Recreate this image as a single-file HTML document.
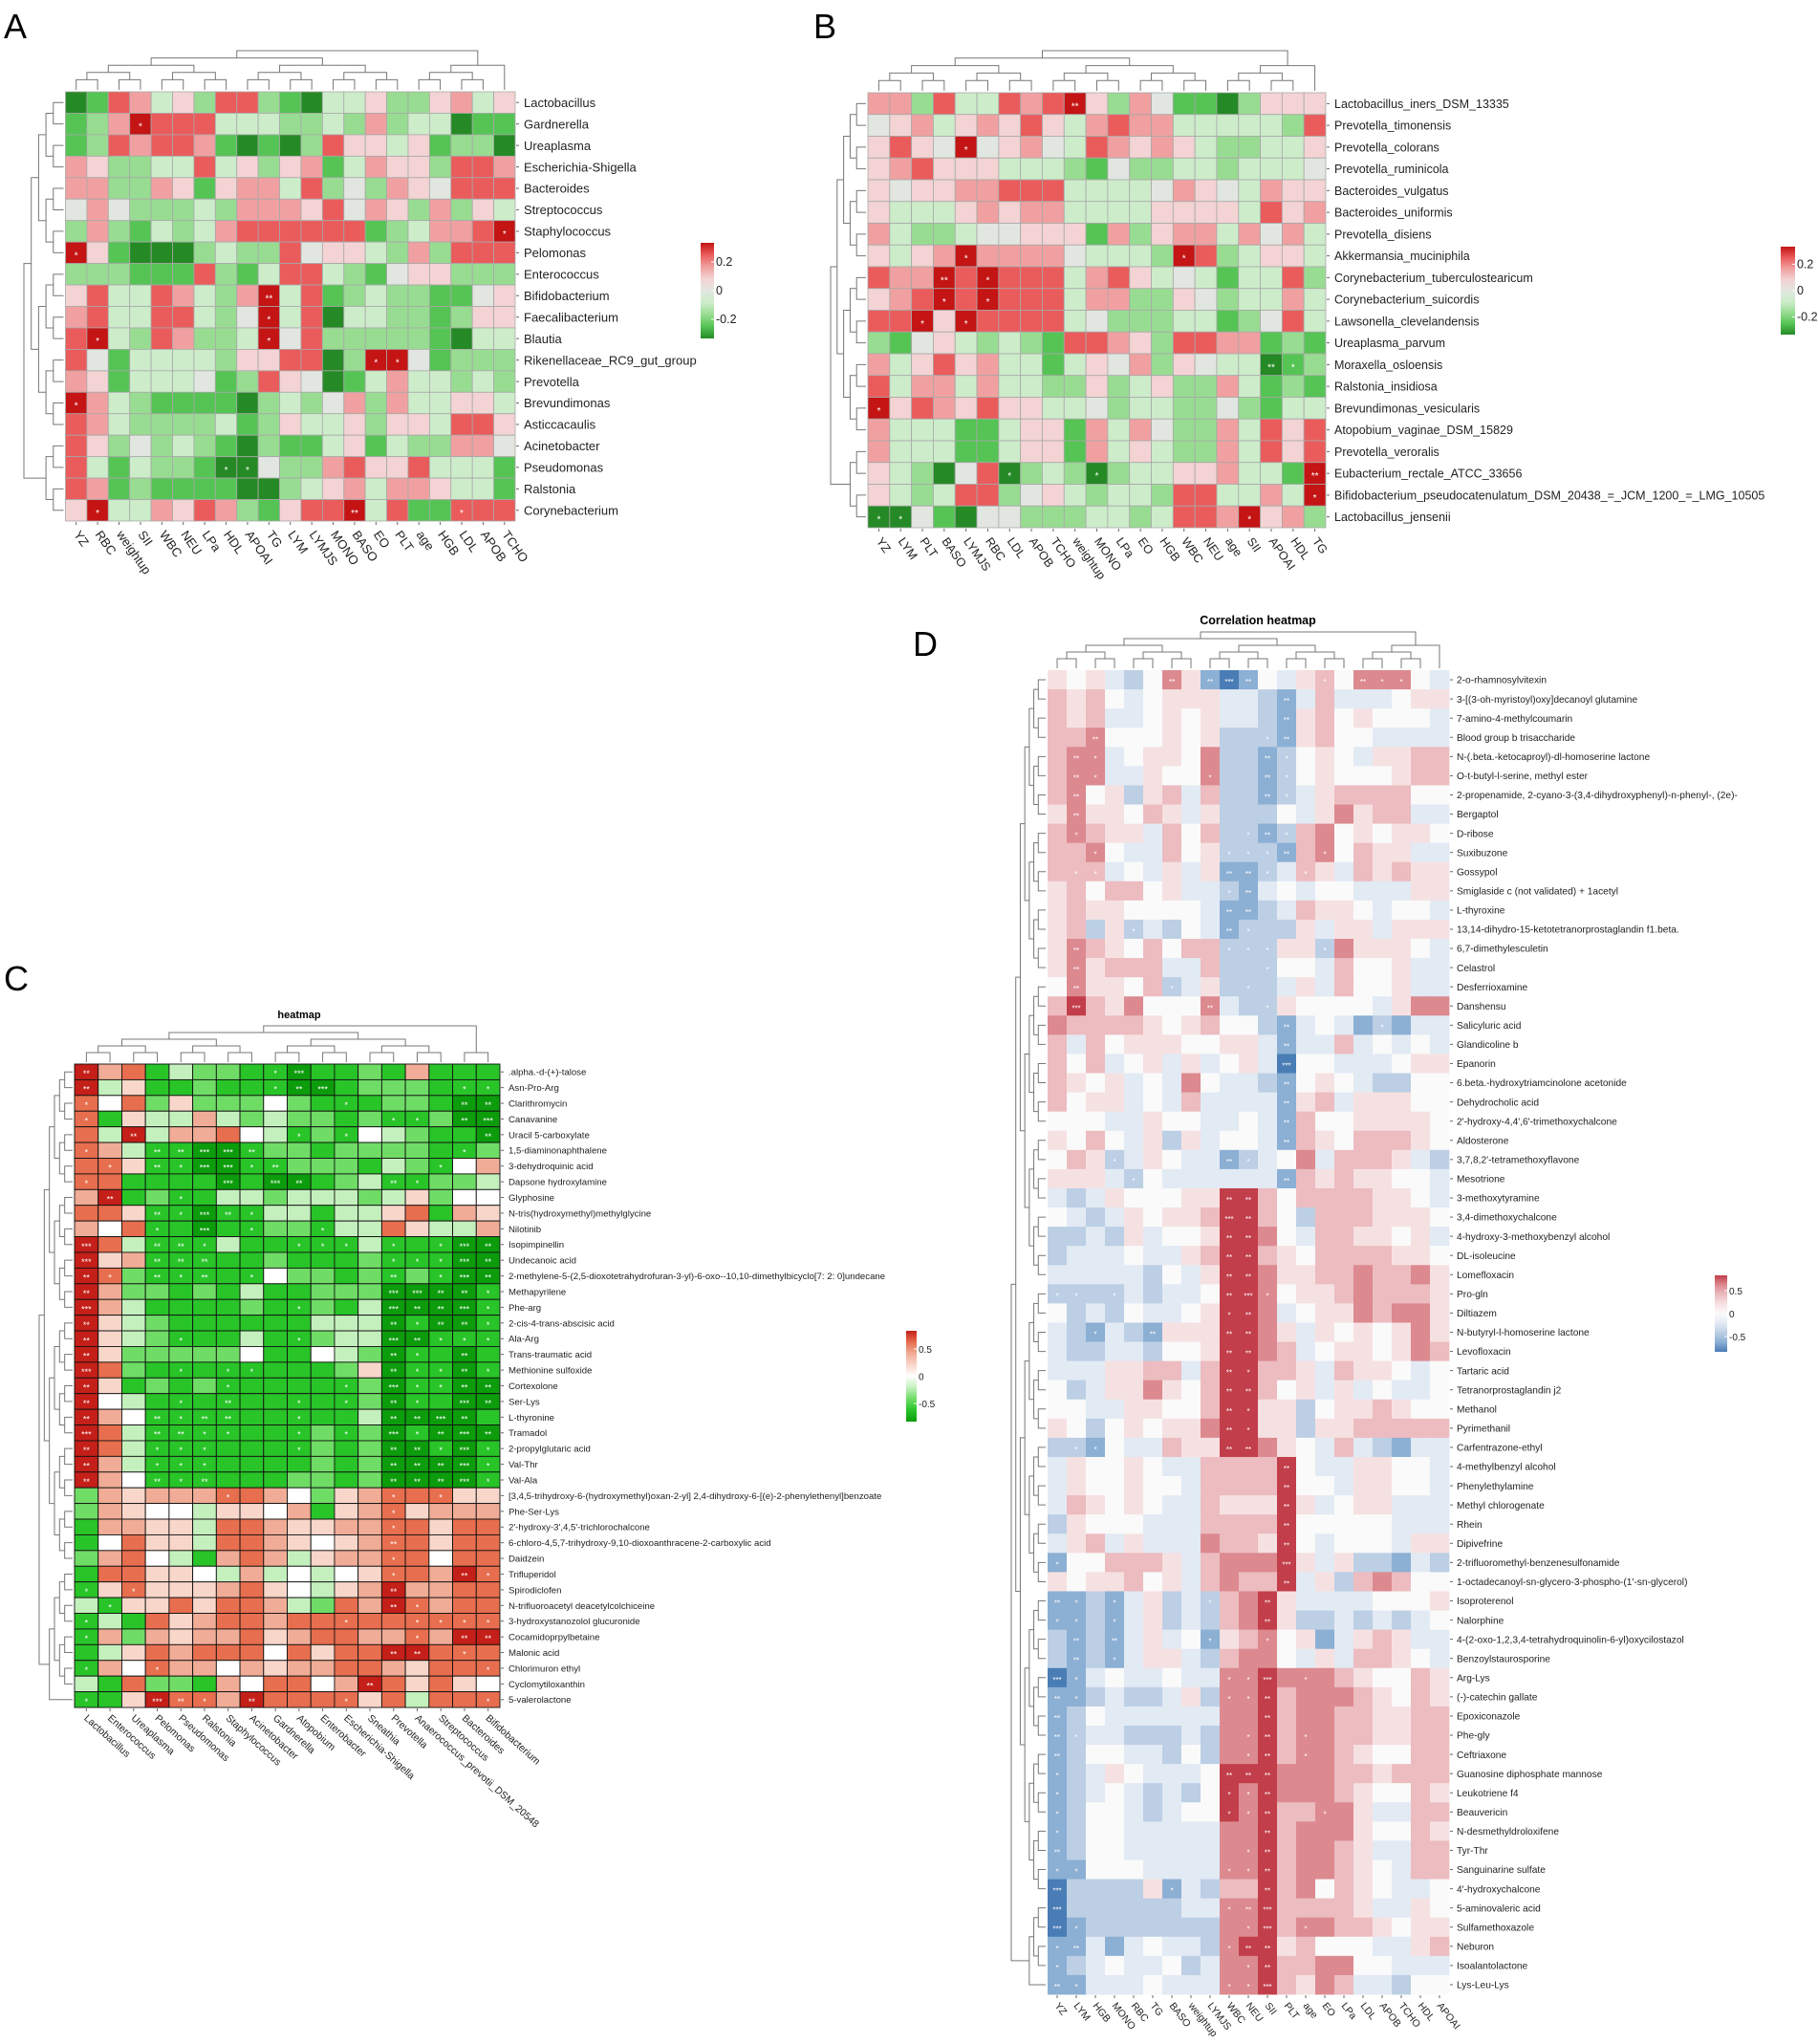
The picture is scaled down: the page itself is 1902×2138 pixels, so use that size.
<!DOCTYPE html>
<html><head><meta charset="utf-8"><style>
html,body{margin:0;padding:0;background:#fff;}
svg{display:block;font-family:"Liberation Sans",sans-serif;}
</style></head><body>
<svg id="fig" width="1902" height="2138" viewBox="0 0 1902 2138" xmlns="http://www.w3.org/2000/svg">
<text x="4" y="40" font-size="36" fill="#000">A</text>
<text x="851" y="40" font-size="36" fill="#000">B</text>
<text x="4" y="1036" font-size="36" fill="#000">C</text>
<text x="955" y="686" font-size="36" fill="#000">D</text>
<text x="313" y="1065" font-size="11" font-weight="bold" text-anchor="middle">heatmap</text>
<text x="1316" y="653" font-size="12.5" font-weight="bold" text-anchor="middle">Correlation heatmap</text>
</svg>
<script>
// ---------- Panel A data ----------
const colsA = ["YZ","RBC","weightup","SII","WBC","NEU","LPa","HDL","APOAI","TG","LYM","LYMJS","MONO","BASO","EO","PLT","age","HGB","LDL","APOB","TCHO"];
const rowLabelsA = ["Lactobacillus","Gardnerella","Ureaplasma","Escherichia-Shigella","Bacteroides","Streptococcus","Staphylococcus","Pelomonas","Enterococcus","Bifidobacterium","Faecalibacterium","Blautia","Rikenellaceae_RC9_gut_group","Prevotella","Brevundimonas","Asticcacaulis","Acinetobacter","Pseudomonas","Ralstonia","Corynebacterium"];
const valuesA = [
"-4 -3 3 2 -1 1 -2 3 3 -2 -3 -4 -1 -1 1 -2 -2 1 2 -1 1",
"-3 -2 2 4* 3 3 3 -1 -1 -1 -2 -2 -1 -2 2 -2 -1 -1 -4 -3 -3",
"-3 -2 3 2 3 3 2 -3 -4 -3 -4 -2 3 1 1 -1 1 -3 -2 -2 -4",
"2 1 -2 -2 -1 -1 3 -1 1 -2 1 2 -3 -1 2 1 1 -2 3 3 2",
"2 2 -2 -2 2 1 -3 1 2 2 -1 3 -2 0 -2 2 1 0 3 3 3",
"0 2 0 -2 -2 -2 -1 -2 2 2 2 1 3 0 2 1 -2 2 -2 1 -1",
"-2 2 -2 -3 -1 -2 -1 2 3 3 3 3 3 3 -3 -2 -1 2 2 3 4*",
"4* 1 -3 -4 -4 -4 -2 -1 -2 -2 3 0 1 1 -1 -2 2 -2 3 3 3",
"-2 -2 -2 -3 -3 -3 3 -2 -3 -1 3 3 -1 -2 -3 0 1 1 -2 -2 -2",
"1 3 -1 -1 3 2 -1 -2 2 4** -1 3 -3 -2 -1 -2 -2 -3 -3 0 1",
"2 3 -1 -1 3 3 -1 -2 0 4* -1 3 -4 -1 -1 -2 -2 -3 -2 1 1",
"3 4* -1 -2 3 2 -2 -2 -1 4* 0 3 -2 -2 -2 -2 -2 -3 -4 -1 -1",
"3 0 -3 -1 -1 -1 -1 -2 1 1 3 3 -4 -2 4* 4* 0 -3 -2 -2 -2",
"2 1 -3 -1 -1 -1 0 -3 -2 3 1 0 -4 -3 -1 2 -1 -1 -2 -1 -2",
"4* 2 -1 -2 -3 -3 -3 -3 -4 -2 -1 -2 0 2 -2 2 -1 -1 1 1 -1",
"3 2 -1 -2 -2 -2 -2 -1 -3 -2 1 -1 -1 1 -2 1 1 -1 3 3 1",
"3 1 -2 0 -2 -1 -2 -3 -4 -2 -3 -3 -1 1 -3 -1 -2 -2 2 2 0",
"3 -1 -3 -1 -2 -2 -3 -4* -4* 0 -2 -2 2 3 1 1 3 -1 -1 -1 -3",
"3 2 -3 -2 -3 -3 -3 -3 -4 -4 -2 -1 1 2 -1 2 2 1 -1 -1 -3",
"1 4* -1 -1 2 1 3 2 -2 -3 1 3 3 4** -1 3 -3 -3 3* 3 3"];
// ---------- Panel B data ----------
const colsB = ["YZ","LYM","PLT","BASO","LYMJS","RBC","LDL","APOB","TCHO","weightup","MONO","LPa","EO","HGB","WBC","NEU","age","SII","APOAI","HDL","TG"];
const rowLabelsB = ["Lactobacillus_iners_DSM_13335","Prevotella_timonensis","Prevotella_colorans","Prevotella_ruminicola","Bacteroides_vulgatus","Bacteroides_uniformis","Prevotella_disiens","Akkermansia_muciniphila","Corynebacterium_tuberculostearicum","Corynebacterium_suicordis","Lawsonella_clevelandensis","Ureaplasma_parvum","Moraxella_osloensis","Ralstonia_insidiosa","Brevundimonas_vesicularis","Atopobium_vaginae_DSM_15829","Prevotella_veroralis","Eubacterium_rectale_ATCC_33656","Bifidobacterium_pseudocatenulatum_DSM_20438_=_JCM_1200_=_LMG_10505","Lactobacillus_jensenii"];
const valuesB = [
"2 2 -2 3 -1 -1 3 2 3 4** 1 -2 2 0 -3 -3 -4 -2 1 1 1",
"0 1 2 -1 1 2 1 3 1 -1 2 3 2 2 -1 -1 -1 -1 -1 -2 3",
"1 3 1 0 4* 0 1 2 0 -1 3 2 1 2 1 -1 -2 -2 -1 -1 1",
"1 2 3 1 1 1 -1 -1 -1 -2 -3 0 -2 -2 -1 -1 -2 -1 -1 -1 0",
"1 0 1 1 2 2 3 3 3 -1 -1 -1 -1 0 2 1 0 -1 2 1 1",
"1 -1 -1 -1 1 2 1 2 2 -1 -1 -1 -1 1 1 1 1 -1 3 1 2",
"2 -1 -2 -2 -1 0 0 1 1 1 -3 2 -2 1 2 2 -1 2 0 2 -1",
"1 -1 1 2 4* 2 2 2 2 0 -1 -1 -1 -2 4* 3 -2 -1 1 1 -1",
"3 2 2 4** 3 4* 3 3 3 -1 2 3 1 -1 0 -1 -3 -1 -1 3 -2",
"1 2 3 4* 3 4* 3 3 3 -1 2 2 -2 -2 1 0 -2 -1 -1 2 -1",
"3 3 4* 1 4* 3 3 3 3 -1 0 -2 -2 -2 -1 -1 -3 -2 0 3 -1",
"-2 -3 0 1 -1 -2 -1 -2 -3 3 3 2 1 -2 3 3 2 2 -3 -2 -3",
"2 -1 1 3 1 2 -1 -1 -3 -1 1 0 2 -2 1 0 -1 -1 -4** -3* -2",
"3 -1 2 2 -1 2 -1 -1 -2 -2 1 -2 -1 1 -2 -2 2 -1 -3 -2 -3",
"4* 1 3 2 1 3 1 1 -1 -1 0 -2 -1 -1 -2 -2 0 -2 -3 -1 -1",
"2 -1 -1 -1 -3 -3 -1 1 1 -3 2 -1 2 0 -2 -2 2 -1 3 1 3",
"2 -1 -1 -1 -3 -3 -1 1 1 -3 2 -1 1 -1 -2 -2 2 -1 3 1 3",
"1 -1 -2 -4 0 3 -4* -2 -1 -2 -4* -2 -1 -1 1 1 2 -1 -1 -3 4**",
"1 -1 -2 -1 3 3 -2 0 1 -1 -2 -1 -1 -2 3 3 -1 -1 2 -1 4*",
"-4* -4* 0 -3 -4 0 0 -2 -2 -2 -1 -1 -2 -1 3 3 2 4* 1 2 -2"];
// ---------- Panel C data ----------
const colsC = ["Lactobacillus","Enterococcus","Ureaplasma","Pelomonas","Pseudomonas","Ralstonia","Staphylococcus","Acinetobacter","Gardnerella","Atopobium","Enterobacter","Escherichia-Shigella","Sneathia","Prevotella","Anaerococcus_prevotii_DSM_20548","Streptococcus","Bacteroides","Bifidobacterium"];
const rowLabelsC = [".alpha.-d-(+)-talose","Asn-Pro-Arg","Clarithromycin","Canavanine","Uracil 5-carboxylate","1,5-diaminonaphthalene","3-dehydroquinic acid","Dapsone hydroxylamine","Glyphosine","N-tris(hydroxymethyl)methylglycine","Nilotinib","Isopimpinellin","Undecanoic acid","2-methylene-5-(2,5-dioxotetrahydrofuran-3-yl)-6-oxo--10,10-dimethylbicyclo[7: 2: 0]undecane","Methapyrilene","Phe-arg","2-cis-4-trans-abscisic acid","Ala-Arg","Trans-traumatic acid","Methionine sulfoxide","Cortexolone","Ser-Lys","L-thyronine","Tramadol","2-propylglutaric acid","Val-Thr","Val-Ala","[3,4,5-trihydroxy-6-(hydroxymethyl)oxan-2-yl] 2,4-dihydroxy-6-[(e)-2-phenylethenyl]benzoate","Phe-Ser-Lys","2'-hydroxy-3',4,5'-trichlorochalcone","6-chloro-4,5,7-trihydroxy-9,10-dioxoanthracene-2-carboxylic acid","Daidzein","Trifluperidol","Spirodiclofen","N-trifluoroacetyl deacetylcolchiceine","3-hydroxystanozolol glucuronide","Cocamidoprpylbetaine","Malonic acid","Chlorimuron ethyl","Cyclomytiloxanthin","5-valerolactone"];
const valuesC = [
"4** 2 3 -3 -1 -2 -2 -3 -3* -4*** -3 -3 -2 -3 2 -3 -3 -3",
"4** -1 1 -3 -3 -2 -3 -3 -3* -4** -4*** -3 -2 -2 -2 -3 -3* -3*",
"3* 0 3 -2 1 -2 -2 -2 0 -2 -3 -3* -3 -2 -2 -3 -4** -4**",
"3* -3 1 -1 -1 2 -1 -2 -1 -2 -2 -3 -2 -3* -3* -2 -4** -4***",
"3 -1 4** -1 2 2 3 0 -1 -3* -2 -3* 0 -1 -2 -3 -3 -4**",
"3* 2 -1 -3** -3** -4*** -4*** -3** -2 -2 -3 -2 -2 -2 -2 -3 -3* -2",
"3 3* 1 -3** -3* -4*** -4*** -3* -3** -2 -2 -2 -3 -1 -2 -3* 0 2",
"3* 3 -3 -3 -3 -3 -4*** -3 -4*** -4** -3 -2 -1 -3** -3* -2 -2 -1",
"2 4** -3 -2 -3* -3 -1 -1 -2 -1 -1 -1 -2 -1 1 -2 0 0",
"3 3 1 -3** -3* -4*** -3** -3* -1 -1 -3 -1 -1 1 3 -3 2 1",
"2 0 3 -3* -3 -4*** -3 -3* -2 -2 -3* -1 -1 3 1 -1 -1 2",
"4*** 3 -1 -3** -3** -3* -1 -3 -3 -3* -3* -3* -1 -3* -3 -3* -4*** -4**",
"4*** 1 2 -3** -3** -3** -3 -3 -2 -3 -3 -3 -2 -3* -3* -3* -4*** -4**",
"4** 3* -2 -3** -3* -3** -3 -3* 0 -2 -2 -3 -2 -3** -2 -3* -4*** -4**",
"4** 2 -2 -2 -3 -2 -3 -1 -3 -3 -2 -2 -2 -4*** -4*** -4** -4** -3*",
"4*** 2 -1 -3 -3 -3 -3 -2 -3 -3* -2 -3 -1 -4*** -4** -4** -4*** -3*",
"4** 1 -1 -2 -3 -3 -3 -3 -3 -3 -1 -1 -1 -4** -3* -4** -4** -3*",
"4** 1 -1 -2 -3* -3 -3 -1 -3 -3* -2 -1 -1 -4*** -4** -3* -3* -3*",
"4** 1 -2 -2 -2 -2 -2 0 -3 -3 0 -1 -2 -4** -3* -3 -4** -3",
"4*** 3 -2 -3 -3* -3 -3* -3* -3 -3 -3 -2 1 -4** -3* -3* -4** -3*",
"4** 1 -3 -2 -3 -2 -3* -3 -3 -3 -3 -3* -2 -4*** -3* -3* -4** -4**",
"4** 0 -1 -3 -3* -3 -3** -3 -3 -3* -3 -3* -2 -4** -3* -3 -4*** -4**",
"4** 2 0 -3** -3* -3** -3** -3 -3 -3* -3 -3 -1 -4** -4** -4*** -4** -3",
"4*** 3 -1 -3** -3** -3* -3* -3 -3 -3* -2 -3* -2 -4*** -3* -4** -4*** -4**",
"4** 3 -1 -3* -3* -3* -3 -3 -3 -3* -2 -3 -2 -4** -4** -3* -4*** -3*",
"4** 2 -1 -3* -3* -3* -3 -3 -3 -3 -2 -3 -2 -4** -4** -4** -4*** -3*",
"4** 2 0 -3** -3* -3** -3 -3 -3 -2 -2 -3 -2 -4** -4** -4** -4*** -3*",
"-2 2 1 2 2 2 3* 3 2 0 -2 1 2 3* 3 3* 1 1",
"-2 2 1 0 0 -1 1 1 0 2 -3 1 2 3* 1 2 2 2",
"-3 2 2 1 1 -1 3 3 2 1 1 2 2 3* 3 1 3 3",
"-3 0 3 1 1 -1 3 3 2 1 0 1 2 3** 3 1 3 3",
"-2 2 3 0 -1 -3 2 3 2 -1 1 2 2 3* 3 0 3 3",
"-3 3 3 1 1 0 -1 2 -1 0 -1 0 1 3* 3 2 4** 3*",
"-3* 1 3* 1 1 1 2 3 1 0 -1 1 2 4** 2 2 3 3",
"-1 -3* 1 1 3 1 3 3 2 -1 -2 3 2 4** 3* 2 3 3",
"-3* -1 -3 3 1 2 3 3 2 3 3 3* 3 3 3* 3* 3* 3*",
"-3* 2 -2 2 1 2 2 3 1 2 3 3 2 2 3* 2 4** 4**",
"-3 -1 1 3 2 3 3 3 0 3 1 3 3 4** 4** 3 3* 3",
"-3* 2 0 3* 2 2 0 2 1 2 2 3 3 2 1 3 3 3*",
"-1 -3 3 -2 -2 -3 2 0 3 3 0 2 4** 3 1 3 1 0",
"-3* -3 1 4*** 3** 3* 2 4** 3 3 3 3* 1 3 -1 3 3 3*"];
// ---------- Panel D data ----------
const colsD = ["YZ","LYM","HGB","MONO","RBC","TG","BASO","weightup","LYMJS","WBC","NEU","SII","PLT","age","EO","LPa","LDL","APOB","TCHO","HDL","APOAI"];
const rowLabelsD = ["2-o-rhamnosylvitexin","3-[(3-oh-myristoyl)oxy]decanoyl glutamine","7-amino-4-methylcoumarin","Blood group b trisaccharide","N-(.beta.-ketocaproyl)-dl-homoserine lactone","O-t-butyl-l-serine, methyl ester","2-propenamide, 2-cyano-3-(3,4-dihydroxyphenyl)-n-phenyl-, (2e)-","Bergaptol","D-ribose","Suxibuzone","Gossypol","Smiglaside c (not validated) + 1acetyl","L-thyroxine","13,14-dihydro-15-ketotetranorprostaglandin f1.beta.","6,7-dimethylesculetin","Celastrol","Desferrioxamine","Danshensu","Salicyluric acid","Glandicoline b","Epanorin","6.beta.-hydroxytriamcinolone acetonide","Dehydrocholic acid","2'-hydroxy-4,4',6'-trimethoxychalcone","Aldosterone","3,7,8,2'-tetramethoxyflavone","Mesotrione","3-methoxytyramine","3,4-dimethoxychalcone","4-hydroxy-3-methoxybenzyl alcohol","DL-isoleucine","Lomefloxacin","Pro-gln","Diltiazem","N-butyryl-l-homoserine lactone","Levofloxacin","Tartaric acid","Tetranorprostaglandin j2","Methanol","Pyrimethanil","Carfentrazone-ethyl","4-methylbenzyl alcohol","Phenylethylamine","Methyl chlorogenate","Rhein","Dipivefrine","2-trifluoromethyl-benzenesulfonamide","1-octadecanoyl-sn-glycero-3-phospho-(1'-sn-glycerol)","Isoproterenol","Nalorphine","4-(2-oxo-1,2,3,4-tetrahydroquinolin-6-yl)oxycilostazol","Benzoylstaurosporine","Arg-Lys","(-)-catechin gallate","Epoxiconazole","Phe-gly","Ceftriaxone","Guanosine diphosphate mannose","Leukotriene f4","Beauvericin","N-desmethyldroloxifene","Tyr-Thr","Sanguinarine sulfate","4'-hydroxychalcone","5-aminovaleric acid","Sulfamethoxazole","Neburon","Isoalantolactone","Lys-Leu-Lys"];
const valuesD = [
"1 0 1 -1 -2 0 3** 1 -3** -4*** -3** 0 -1 1 2* 0 3** 3* 3* 0 -1",
"2 1 2 0 -1 0 1 1 1 -1 -1 -2 -3** -1 2 -1 -1 -1 0 1 1",
"2 1 2 -1 -1 0 1 0 1 -1 -1 -2 -3** 1 2 0 1 0 0 0 -1",
"2 2 3** 0 0 0 1 0 1 -2 -2 -2* -3** 1 2 0 0 -1 -1 -1 -1",
"2 3** 3* -1 0 1 1 0 3 -2 -2 -3** -2* 0 1 0 -1 1 1 2 2",
"2 3** 3* -1 -1 1 0 0 3* -2 -2 -3** -2* 0 1 0 0 0 1 2 2",
"2 3** 0 1 -2 1 2 -1 2 -2 -2 -3** -2* -1 1 2 2 2 2 0 0",
"1 3** 1 1 0 2 1 -1 1 -2 -2 -2 0 -1 1 3 1 2 2 -1 -1",
"2 3* 2 1 1 -1 2 0 2 -2 -2* -3** -2* 2 3 0 1 0 1 1 0",
"2 2 3* 0 -1 -1 2 0 1 -2* -2* -2* -3** 2 3* 0 2 1 1 -1 -1",
"2 2* 2* -1 0 -1 1 -1 1 -3** -3** -2* -1 2* 1 -1 2 1 2 1 1",
"1 2 0 2 2 0 1 -1 -1 -2* -3** -1 0 -1 0 0 -1 -1 -1 1 1",
"1 2 1 1 0 0 0 0 -1 -3** -3** -2 -1 2 1 1 0 -1 0 0 -1",
"1 2 -2 1 -2* -1 -2 0 -1 -3** -2* -2 -2 1 -1 1 1 -1 1 1 1",
"1 3** 2 1 0 2 0 2 2 -2* -2* -2* 1 1 -2* 3 1 1 1 0 -1",
"1 3** 1 2 2 2 -1 -1 2 -2 -2 -2* 0 0 -1 2 0 0 1 -1 -1",
"0 3** 1 1 0 2 -2* -1 1 -2 -2* -2 -1 1 -1 2 0 0 1 -1 -1",
"2 4*** 2 1 3 0 0 0 3** -1 -2 -2* 1 0 0 0 0 -1 1 3 3",
"3 2 2 2 2 1 0 1 2 0 0 -2 -3** -1 0 -1 -3 -2* -3 -1 -1",
"2 -1 2 0 1 1 1 0 0 1 1 -1 -3** -1 -1 2 -1 0 -1 0 -1",
"2 0 2 -1 0 1 -1 1 -1 0 1 -1 -4*** 0 0 -1 -1 -1 0 1 1",
"2 1 0 1 -1 0 -1 3 0 -1 -1 -2 -3** 0 1 0 -1 -2 -2 0 0",
"2 0 1 1 -1 0 -1 2 -1 -1 -1 -1 -3** 1 2 -1 1 1 1 0 0",
"0 0 0 -1 -1 1 0 0 -1 -1 0 -1 -3** 2 0 0 1 1 1 1 0",
"1 0 2 0 -1 1 -2 1 -1 0 0 -1 -3** 2 1 0 2 2 2 1 0",
"0 2 1 -2* -1 1 0 -1 -1 -3** -2* -1 0 3 -1 2 2 2 1 -1 -2",
"1 1 1 -1 -2* 0 -1 -1 -1 -1 -1 -1 -3** 2 1 2 1 1 0 0 -1",
"-1 -2 -1 1 0 0 0 1 1 4** 4** 2 0 2 2 2 2 1 1 0 -1",
"0 -1 -2 -1 1 0 1 1 2 4*** 4** 2 0 -2 2 2 2 1 1 1 0",
"-2 -2 -1 -2 1 -1 0 0 1 4** 4** 3 0 -1 2 2 1 1 0 1 -1",
"-2 -1 -1 -1 0 -1 -1 1 2 4** 4** 2 1 0 2 2 2 2 1 1 0",
"-1 -1 -1 -1 -1 -2 0 -1 1 4** 4** 3 1 1 2 2 3 2 2 3 1",
"-2* -2* -2 -2* -1 -2 -1 -1 0 4** 4*** 3* 0 1 1 2 3 2 2 2 1",
"0 -2 -1 -2 0 -1 -1 0 1 4* 4** 3 -1 0 1 1 3 2 3 3 1",
"-1 -2 -3* -1 -2 -3** 1 1 1 4** 4** 3 1 -1 1 0 1 0 1 3 1",
"-1 -2 -2 -1 -1 -2 0 0 1 4** 4** 3 2 -1 0 1 1 0 1 3 2",
"-1 -1 -1 1 1 2 2 -1 2 4** 4* 2 2 1 -1 2 1 1 0 -1 0",
"0 -2 -1 1 1 3 1 0 2 4** 4** 2 0 1 -1 1 -1 0 -1 -1 0",
"0 0 -1 -1 1 1 0 0 2 4** 4* 1 1 -2 0 1 1 2 1 0 0",
"1 0 -2 0 1 0 1 1 3 4** 4* 1 1 -2 1 1 2 2 2 2 2",
"-2 -2* -3* 0 -1 -1 2 1 1 4** 4** 3 1 0 -1 2 -1 -2 -3 -1 -1",
"-1 1 0 0 1 0 -1 -1 2 2 2 2 4** 0 -1 -1 1 1 0 0 -1",
"-1 1 0 0 1 0 0 -1 2 2 2 2 4** 0 0 -1 1 1 0 0 -1",
"-1 2 1 0 1 0 -1 -1 2 1 1 1 4** 1 -1 0 1 1 -1 -1 -1",
"-2 1 0 0 0 -1 -1 -1 2 2 2 2 4** 0 0 0 0 0 -1 -1 -1",
"-1 1 2 -1 1 -1 -1 -1 3 2 2 1 4** 0 -1 0 0 0 -1 1 1",
"-3* 0 0 2 2 2 1 -1 2 3 3 3 4*** 1 -1 1 -2 -2 -3 -1 -2",
"1 0 1 1 2 0 1 -1 2 3 2 2 4** -1 1 -2 2 3 2 0 0",
"-3** -3* -2 -3* -1 1 -2 -1 -2* 2 3 4** 1 -1 -1 -1 -1 0 0 0 1",
"-3* -3* -2 -3* -1 1 -2 -1 -2 2 3 4** 1 -2 -2 -1 -2 -1 -2 -1 0",
"-2 -3** -2 -3** -1 1 -1 0 -3* 1 2 3* 0 1 -3 -1 1 2 1 -1 -1",
"-2 -3** -2 -3* -1 1 1 -1 -2 2 3 3 0 -1 1 -1 2 2 1 0 -1",
"-4*** -3* -1 0 -1 -1 0 -1 -1 3* 3* 4*** 3 3* 3 2 1 0 0 2 1",
"-3** -3* -2 -1 -2 -2 -1 1 -2 3* 3* 4** 2 3 3 3 2 1 0 2 1",
"-3** -2 0 -1 -1 -1 -1 -1 -1 3 3 4** 2 3 3 2 2 1 1 2 2",
"-3** -2* -1 -1 -2 -2 -2 -1 -2 3 3* 4** 2 3* 3 2 2 1 1 2 2",
"-3** -2 0 0 -1 -1 -2 0 -2 3 3* 4** 2 3* 3 2 1 0 0 2 2",
"-3* -2 -1 1 0 -1 -1 -1 0 4** 4** 4** 3 3 3 2 2 1 2 2 2",
"-3* -2 -1 0 -1 -2 -1 -2 0 4* 3* 4** 3 3 3 2 1 0 0 2 1",
"-3* -2 0 0 -1 -2 -1 0 0 4* 3* 4** 2 2 3* 3 1 -1 -1 2 2",
"-3* -2 0 0 -1 -1 -1 -1 -1 3 3 4** 2 3 3 3 1 0 0 2 1",
"-3** -2 0 0 -1 -1 -1 -1 -1 3 3* 4** 2 3 3 2 1 -1 -1 2 2",
"-3* -3* 0 0 0 -1 -1 -1 -1 3* 3* 4** 2 3 3 2 1 0 -1 2 2",
"-4*** -2 -2 -2 -2 1 -3* -1 -2 2 2 4** 2 3 0 2 1 0 -1 -1 0",
"-4*** -2 -2 -2 -2 -2 -2 -1 -1 3* 3** 4*** 2 2 2 2 1 -1 -1 1 0",
"-4*** -3* -2 -2 -2 -2 -2 -2 -2 3 3* 4*** 2 3* 3 2 2 1 0 1 1",
"-3* -3** -1 -3 -1 0 -1 -1 -2 3* 4** 4** 1 2 0 0 0 -1 -1 1 2",
"-3* -2 -1 0 -1 -1 0 -2 -1 3 3* 4** 2 2 3 3 0 0 -1 -1 -1",
"-3** -3* -1 -1 -1 0 -1 -1 -1 3* 3* 4*** 2 1 3 2 -1 -1 -2 0 0"];
const ticksA = ["0.2","0","-0.2"];
const ticksC = ["0.5","0","-0.5"];

const NS = "http://www.w3.org/2000/svg";
const svg = document.getElementById("fig");
function mk(tag, attrs, parent){ const e=document.createElementNS(NS,tag); for(const k in attrs) e.setAttribute(k,attrs[k]); (parent||svg).appendChild(e); return e; }
function hex(h){return [parseInt(h.slice(1,3),16),parseInt(h.slice(3,5),16),parseInt(h.slice(5,7),16)];}
function makeScale(stops){ // stops for levels -4..4
  const c=stops.map(hex);
  return v=>{ let t=Math.max(-4,Math.min(4,v))+4; let i=Math.min(7,Math.floor(t)); let f=t-i;
    const a=c[i],b=c[i+1]; return "rgb("+a.map((x,k)=>Math.round(x+(b[k]-x)*f)).join(",")+")"; };
}
const scaleGR = makeScale(["#258a25","#55c455","#98dc92","#cdecca","#e2e6e0","#f3d3d3","#f0a0a0","#ea5c5c","#c41414"]);
const scaleC = makeScale(["#0c9c0c","#28c428","#6fdc66","#c4f0bd","#ffffff","#f8d6ca","#f0ac96","#e76e4e","#c41f18"]);
const scaleD = makeScale(["#4a7db5","#8cafd4","#bccfe4","#e2eaf4","#fafafa","#f6e1e2","#ecbcc0","#dc8990","#c23e4a"]);

function parse(rows){ return rows.map(r=>r.trim().split(/\s+/).map(t=>({v:parseInt(t,10), s:(t.match(/\*/g)||[]).length}))); }

function dendroTop(n,x0,cw,yBottom,yTop,g){
  let nodes=[]; for(let i=0;i<n;i++) nodes.push({x:x0+cw*(i+0.5),y:yBottom});
  let levels=Math.ceil(Math.log2(n)); let step=(yBottom-yTop-4)/levels; let lv=1;
  while(nodes.length>1){ const nn=[]; const y=yBottom-step*lv-3;
    for(let i=0;i<nodes.length;i+=2){ if(i+1<nodes.length){ const a=nodes[i],b=nodes[i+1];
        mk("path",{d:`M${a.x},${a.y}V${y}H${b.x}V${b.y}`,fill:"none",stroke:"#777","stroke-width":1},g); nn.push({x:(a.x+b.x)/2,y:y}); }
      else nn.push(nodes[i]); }
    nodes=nn; lv++; }
}
function dendroLeft(n,y0,rh,xRight,xLeft,g){
  let nodes=[]; for(let i=0;i<n;i++) nodes.push({y:y0+rh*(i+0.5),x:xRight});
  let levels=Math.ceil(Math.log2(n)); let step=(xRight-xLeft-4)/levels; let lv=1;
  while(nodes.length>1){ const nn=[]; const x=xRight-step*lv-3;
    for(let i=0;i<nodes.length;i+=2){ if(i+1<nodes.length){ const a=nodes[i],b=nodes[i+1];
        mk("path",{d:`M${a.x},${a.y}H${x}V${b.y}H${b.x}`,fill:"none",stroke:"#777","stroke-width":1},g); nn.push({y:(a.y+b.y)/2,x:x}); }
      else nn.push(nodes[i]); }
    nodes=nn; lv++; }
}

function heatmap(cfg){
  const g=mk("g",{});
  
  
  const data=parse(cfg.values);
  const nR=cfg.rows.length, nC=cfg.cols.length;
  const cw=cfg.w/nC, rh=cfg.h/nR;
  const xS=j=>cfg.x+j*cw, yS=i=>cfg.y+i*rh;
  data.forEach((row,i)=>row.forEach((d,j)=>{
    const r=mk("rect",{x:xS(j),y:yS(i),width:cw+(cfg.stroke?0:0.4),height:rh+(cfg.stroke?0:0.4),fill:cfg.scale(d.v)},g);
    if(cfg.stroke){r.setAttribute("stroke",cfg.stroke);r.setAttribute("stroke-width",cfg.sw);}
    
    
    if(d.s>0){ const t=mk("text",{x:xS(j)+cw/2,y:yS(i)+rh/2+cfg.starDy,"font-size":cfg.starSize,fill:"#fff","text-anchor":"middle"},g); t.textContent="*".repeat(d.s);
      
       }
  }));
  cfg.rows.forEach((lab,i)=>{
    mk("line",{x1:cfg.x+cfg.w+1,x2:cfg.x+cfg.w+4,y1:yS(i)+rh/2,y2:yS(i)+rh/2,stroke:"#666"},g);
    const t=mk("text",{x:cfg.labelX,y:yS(i)+rh/2+cfg.fs*0.36,"font-size":cfg.fs,fill:"#222"},g); t.textContent=lab;
    
    
  });
  cfg.cols.forEach((lab,j)=>{
    const cx=xS(j)+cw/2;
    mk("line",{x1:cx,x2:cx,y1:cfg.y+cfg.h+1,y2:cfg.y+cfg.h+4,stroke:"#666"},g);
    const ty=cfg.y+cfg.h+cfg.colDy;
    const t=mk("text",{x:cx-3,y:ty,"font-size":cfg.cfs,fill:"#222",transform:`rotate(${cfg.rot} ${cx-3} ${ty})`},g); t.textContent=lab;
    
    
  });
  dendroTop(nC,cfg.x,cw,cfg.y-2,cfg.dTop,g);
  dendroLeft(nR,cfg.y,rh,cfg.x-2,cfg.dLeft,g);
  // colorbar
  const cb=cfg.cb; const defsId="grad"+cfg.name;
  const defs=mk("defs",{},g); const lg=mk("linearGradient",{id:defsId,x1:0,y1:0,x2:0,y2:1},defs);
  for(let k=0;k<=8;k++) mk("stop",{offset:(k/8),"stop-color":cfg.scale(4-k)},lg);
  const cr=mk("rect",{x:cb.x,y:cb.y,width:cb.w,height:cb.h,fill:`url(#${defsId})`},g);
  
  
  cfg.ticks.forEach((tk,k)=>{ const yy=cb.y+cb.h*(0.2+0.3*k)+(k===0?0:0);
    mk("line",{x1:cb.x+cb.w-3,x2:cb.x+cb.w,y1:yy,y2:yy,stroke:"#fff"},g);
    const t=mk("text",{x:cb.x+cb.w+2,y:yy+4,"font-size":cb.fs,fill:"#222"},g); t.textContent=tk;
    
     });
}

heatmap({name:"heatmap-a",rows:rowLabelsA,cols:colsA,values:valuesA,scale:scaleGR,x:68.5,y:96,w:470.5,h:449,stroke:"#a8a8a8",sw:0.8,
  labelX:548,fs:13,cfs:13,colDy:14,rot:55,starSize:10,starDy:6,dTop:52,dLeft:24,
  cb:{x:733,y:254,w:14,h:100,fs:12.5},ticks:ticksA});
heatmap({name:"heatmap-b",rows:rowLabelsB,cols:colsB,values:valuesB,scale:scaleGR,x:908,y:97,w:479,h:455,stroke:"#a8a8a8",sw:0.8,
  labelX:1396,fs:12.5,cfs:12.5,colDy:14,rot:55,starSize:10,starDy:6,dTop:52,dLeft:868,
  cb:{x:1863,y:258,w:15,h:92,fs:12.5},ticks:ticksA});
heatmap({name:"heatmap-c",rows:rowLabelsC,cols:colsC,values:valuesC,scale:scaleC,x:78,y:1113,w:445,h:673,stroke:"#111",sw:0.9,
  labelX:532,fs:9.6,cfs:10.5,colDy:12,rot:42,starSize:9,starDy:5,dTop:1072,dLeft:40,
  cb:{x:948,y:1392,w:11,h:95,fs:10},ticks:ticksC});
heatmap({name:"heatmap-d",rows:rowLabelsD,cols:colsD,values:valuesD,scale:scaleD,x:1096,y:701,w:420,h:1385,stroke:null,sw:0,
  labelX:1524,fs:10.2,cfs:10.5,colDy:12,rot:52,starSize:8,starDy:5,dTop:660,dLeft:1057,
  cb:{x:1794,y:1334,w:13,h:80,fs:10},ticks:ticksC});
</script>
</body></html>
